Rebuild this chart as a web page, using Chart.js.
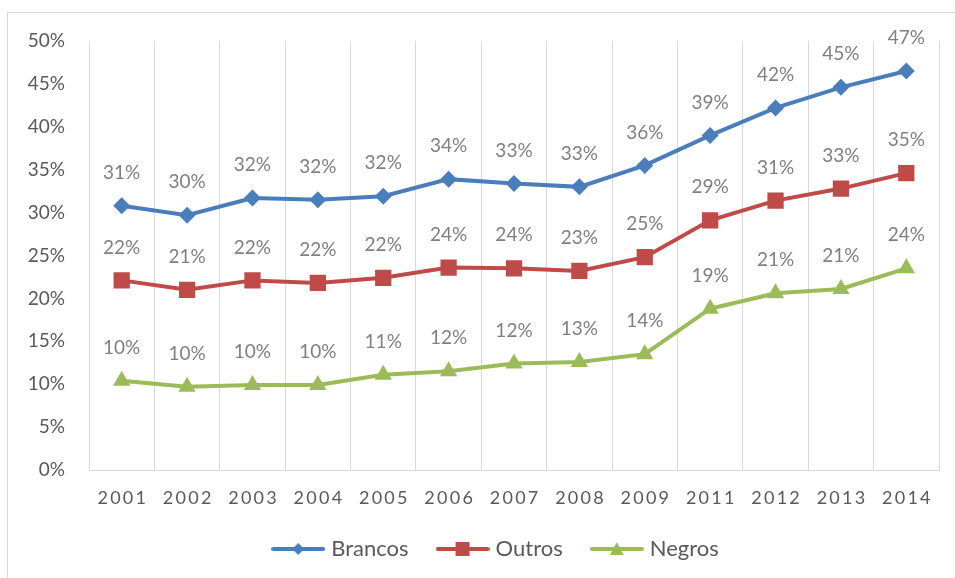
<!DOCTYPE html>
<html>
<head>
<meta charset="utf-8">
<script src="https://cdn.jsdelivr.net/npm/chart.js@4.4.1/dist/chart.umd.min.js"></script>
<style>
  html, body { margin: 0; padding: 0; background: #fff; overflow: hidden; }
  #frame { position: absolute; left: 7px; top: 12px; width: 1000px; height: 700px; border: 1px solid #d9d9d9; }
  #chart_1 { position: absolute; left: 0; top: 0; }
</style>
</head>
<body>
<div id="frame"></div>
<canvas id="chart_1" width="955" height="578"></canvas>
<script>
var years = ['2001', '2002', '2003', '2004', '2005', '2006', '2007', '2008', '2009', '2011', '2012', '2013', '2014'];
var brancos = [30.8, 29.7, 31.7, 31.5, 31.9, 33.9, 33.4, 33.0, 35.5, 39.0, 42.2, 44.6, 46.5];
var outros  = [22.1, 21.0, 22.1, 21.8, 22.4, 23.6, 23.5, 23.2, 24.8, 29.1, 31.4, 32.8, 34.6];
var negros  = [10.4, 9.7, 9.9, 9.9, 11.1, 11.5, 12.4, 12.6, 13.5, 18.8, 20.6, 21.1, 23.5];
var yTicks = [0, 5, 10, 15, 20, 25, 30, 35, 40, 45, 50];

var FONT = 'Lato';
var blue = '#4a7ebb', red = '#be4b48', green = '#9bbb59';

// legend marker: a short line with the point symbol in the middle
function legendIcon(color, style) {
  var c = document.createElement('canvas');
  c.width = 54; c.height = 18;
  var g = c.getContext('2d');
  g.strokeStyle = color; g.lineWidth = 4; g.lineCap = 'round';
  g.beginPath(); g.moveTo(2, 9); g.lineTo(52, 9); g.stroke();
  g.fillStyle = color;
  g.beginPath();
  if (style == 'rectRot') {
    g.moveTo(27, 3); g.lineTo(33, 9); g.lineTo(27, 15); g.lineTo(21, 9);
  } else if (style == 'rect') {
    g.rect(20, 2, 14, 14);
  } else {
    g.moveTo(27, 2); g.lineTo(34, 15); g.lineTo(20, 15);
  }
  g.closePath(); g.fill();
  return c;
}

var labelPlugin = {
  id: 'pctLabels',
  afterLayout: function(chart) {
    // legend in the original sits a bit right of the canvas centre
    chart.legend.left = 56;
  },
  afterDatasetsDraw: function(chart) {
    var ctx = chart.ctx;
    ctx.save();
    ctx.font = '19px ' + FONT;
    ctx.fillStyle = '#7f7f7f';
    ctx.textAlign = 'center';
    ctx.textBaseline = 'middle';
    chart.data.datasets.forEach(function(ds, i) {
      chart.getDatasetMeta(i).data.forEach(function(pt, j) {
        ctx.fillText(Math.round(ds.data[j]) + '%', pt.x, pt.y - 33);
      });
    });
    ctx.restore();
  }
};

function series(label, data, color, style, radius) {
  return {
    label: label,
    data: data,
    borderColor: color,
    backgroundColor: color,
    borderWidth: 4,
    pointStyle: style,
    pointRadius: radius,
    pointHoverRadius: radius,
    pointBorderWidth: 0,
    tension: 0
  };
}

var myChart = new Chart('chart_1', {
  type: 'line',
  data: {
    labels: years,
    datasets: [
      series('Brancos', brancos, blue, 'rectRot', 8.5),
      series('Outros', outros, red, 'rect', 11.5),
      series('Negros', negros, green, 'triangle', 10)
    ]
  },
  options: {
    responsive: false,
    animation: false,
    devicePixelRatio: 1,
    layout: { padding: { top: 41, right: 16, left: 0, bottom: 8 } },
    scales: {
      x: {
        offset: true,
        grid: { offset: true, color: '#d9d9d9', drawTicks: false },
        border: { color: '#d9d9d9' },
        ticks: {
          color: '#595959',
          font: { family: FONT, size: 18 },
          padding: 17,
          maxRotation: 0,
          callback: function(v, i) { return years[i].split('').join('\u2009'); }
        },
        afterFit: function(s) { s.height = 36; }
      },
      y: {
        min: 0,
        max: 50,
        grid: { display: false, drawTicks: false },
        border: { display: true, color: '#d9d9d9' },
        afterBuildTicks: function(s) { s.ticks = yTicks.map(function(v) { return { value: v }; }); },
        ticks: {
          color: '#595959',
          font: { family: FONT, size: 19 },
          padding: 24,
          callback: function(v) { return v + '%'; }
        },
        afterFit: function(s) { s.width = 89; }
      }
    },
    plugins: {
      tooltip: { enabled: false },
      legend: {
        position: 'bottom',
        labels: {
          color: '#595959',
          font: { family: FONT, size: 22 },
          usePointStyle: true,
          pointStyleWidth: 44,
          padding: 32,
          generateLabels: function(chart) {
            var styles = [legendIcon(blue, 'rectRot'), legendIcon(red, 'rect'), legendIcon(green, 'triangle')];
            return chart.data.datasets.map(function(ds, i) {
              return {
                text: ds.label,
                pointStyle: styles[i],
                fillStyle: ds.borderColor,
                strokeStyle: ds.borderColor,
                lineWidth: 0,
                fontColor: '#595959',
                datasetIndex: i
              };
            });
          }
        }
      }
    }
  },
  plugins: [labelPlugin]
});
</script>
</body>
</html>
